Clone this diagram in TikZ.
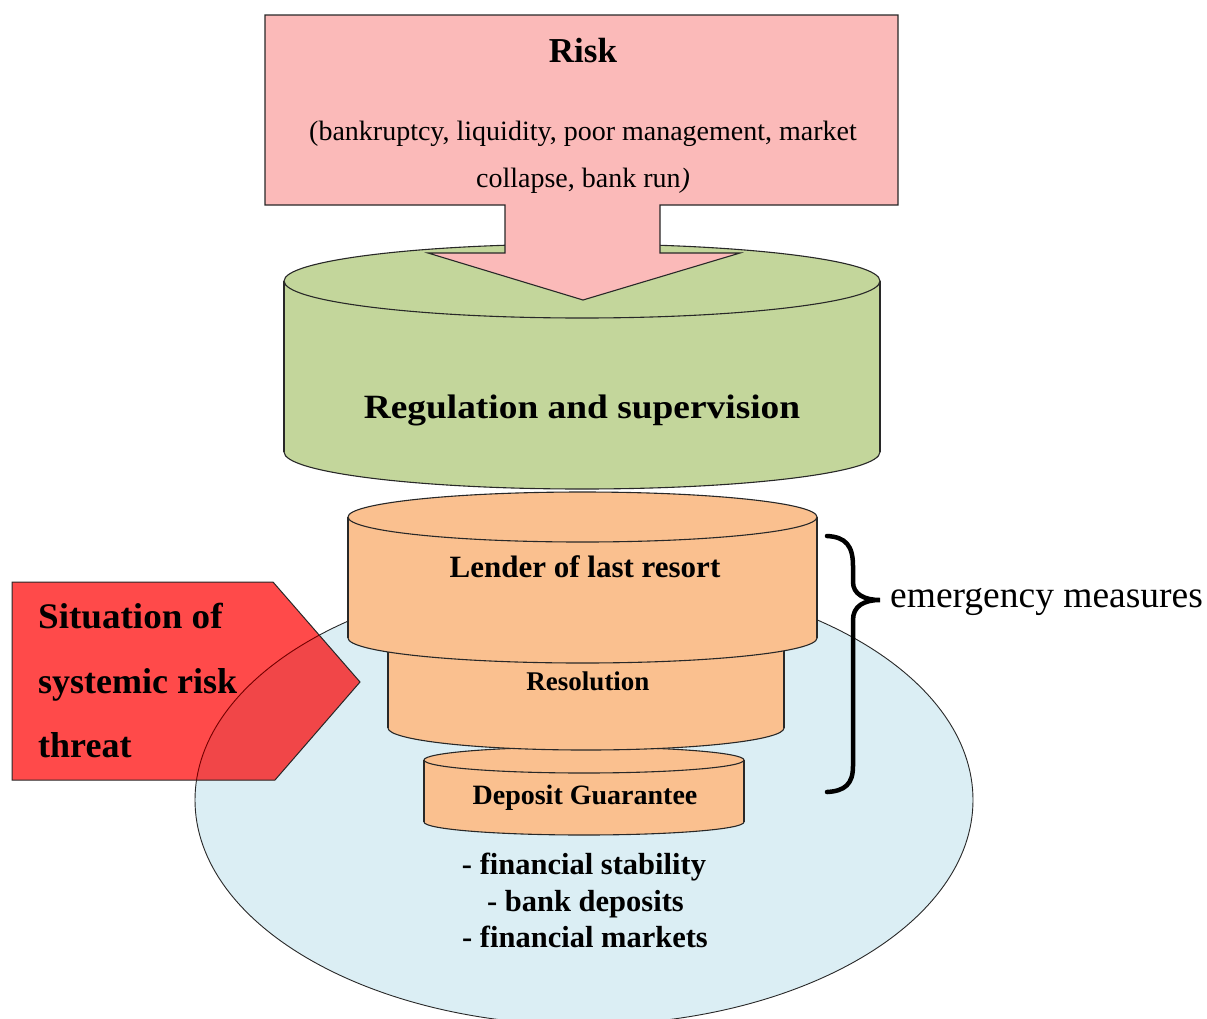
\documentclass[tikz,border=0pt]{standalone}
\usepackage{fontspec}
\usepackage{graphicx}
\setmainfont{Liberation Serif}
\definecolor{riskpink}{RGB}{251,186,185}
\definecolor{regreen}{RGB}{195,214,155}
\definecolor{cylorange}{RGB}{250,192,143}
\definecolor{lightblue}{RGB}{219,238,244}
\definecolor{sitred}{RGB}{255,74,74}
\definecolor{overred}{RGB}{241,70,72}
\definecolor{edge}{RGB}{40,40,40}
\newcommand\fsz[1]{\fontsize{#1}{#1}\selectfont}
% cylinder: cx, rx, top cy, bottom cy, ry, fill colour
\newcommand\cylshape[6]{%
  \fill[#6] (#1-#2,#3) rectangle (#1+#2,#4);
  \fill[#6] (#1,#4) ellipse[x radius=#2, y radius=#5];
  \draw[shapeline] (#1-#2,#3) -- (#1-#2,#4);
  \draw[shapeline] (#1+#2,#3) -- (#1+#2,#4);
  \draw[shapeline] (#1+#2,#4) arc[start angle=0, end angle=180, x radius=#2, y radius=#5];
  \filldraw[shapeline, fill=#6] (#1,#3) ellipse[x radius=#2, y radius=#5];
}
\begin{document}
\begin{tikzpicture}[x=1pt, y=-1pt,
  shapeline/.style={draw=edge, line width=1.1pt},
  lbl/.style={inner sep=0pt, anchor=base, text=black},
  boldlbl/.style={lbl, font=\bfseries}]
\useasboundingbox (0,0) rectangle (1207,1018);
\fill[white] (0,0) rectangle (1207,1018);

% blue ellipse
\filldraw[fill=lightblue, draw=edge, line width=0.9pt] (584,800) ellipse[x radius=389, y radius=225];

% red pentagon
\fill[sitred] (12,582) -- (273,582) -- (360,682) -- (275,780) -- (12,780) -- cycle;
\begin{scope}
  \clip (12,582) -- (273,582) -- (360,682) -- (275,780) -- (12,780) -- cycle;
  \fill[overred] (584,800) ellipse[x radius=389, y radius=225];
  \draw[red!45!black, line width=0.9pt] (584,800) ellipse[x radius=389, y radius=225];
\end{scope}
\draw[draw=edge, line width=1pt] (12,582) -- (273,582) -- (360,682) -- (275,780) -- (12,780) -- cycle;

% orange cylinders
\cylshape{584}{160}{760}{822}{13}{cylorange}
\cylshape{586}{198}{630}{728}{22}{cylorange}
\cylshape{582.5}{234.5}{517}{638}{25}{cylorange}

% green cylinder
\cylshape{582}{298}{281}{452}{37}{regreen}

% risk box with arrow
\filldraw[shapeline, fill=riskpink] (265,15) -- (898,15) -- (898,205) -- (660,205) -- (660,253)
  -- (740,253) -- (583,300) -- (428,253) -- (505,253) -- (505,205) -- (265,205) -- cycle;

% brace
\draw[black, line width=4.5pt, line cap=round]
  (827,536) .. controls (846,537) and (853,546) .. (853,566) -- (853,582)
  .. controls (853,594) and (864,600) .. (880,600)
  .. controls (864,600) and (853,606) .. (853,620) -- (853,766)
  .. controls (853,784) and (845,791) .. (827,792);

% texts
\node[boldlbl, font=\bfseries\fsz{35}] (risk) at (583,62) {Risk};
\node[lbl, font=\fsz{28}] (risk1) at (583,140) {(bankruptcy, liquidity, poor management, market};
\node[lbl, font=\fsz{28}] (risk2) at (583,187) {collapse, bank run\textit{)}};
\node[boldlbl, font=\bfseries\fsz{34}] (reg) at (582,418) {\scalebox{1.1}[1]{Regulation and supervision}};
\node[boldlbl, font=\bfseries\fsz{31}] (lender) at (585,577) {Lender of last resort};
\node[boldlbl, font=\bfseries\fsz{27}] (resol) at (588,690) {Resolution};
\node[boldlbl, font=\bfseries\fsz{28}] (depo) at (585,804) {Deposit Guarantee};
\node[boldlbl, font=\bfseries\fsz{30.5}] (l1) at (584,874) {- financial stability};
\node[boldlbl, font=\bfseries\fsz{30.5}] (l2) at (585.5,911) {- bank deposits};
\node[boldlbl, font=\bfseries\fsz{30.5}] (l3) at (585,947) {- financial markets};
\node[lbl, anchor=base west, font=\fsz{37.5}] (emerg) at (890,607) {emergency measures};
\node[boldlbl, anchor=base west, font=\bfseries\fsz{36}] (s1) at (38,628) {\scalebox{1.03}[1]{Situation of}};
\node[boldlbl, anchor=base west, font=\bfseries\fsz{36}] (s2) at (38,693) {systemic risk};
\node[boldlbl, anchor=base west, font=\bfseries\fsz{36}] (s3) at (38,757) {threat};
\end{tikzpicture}
\end{document}
